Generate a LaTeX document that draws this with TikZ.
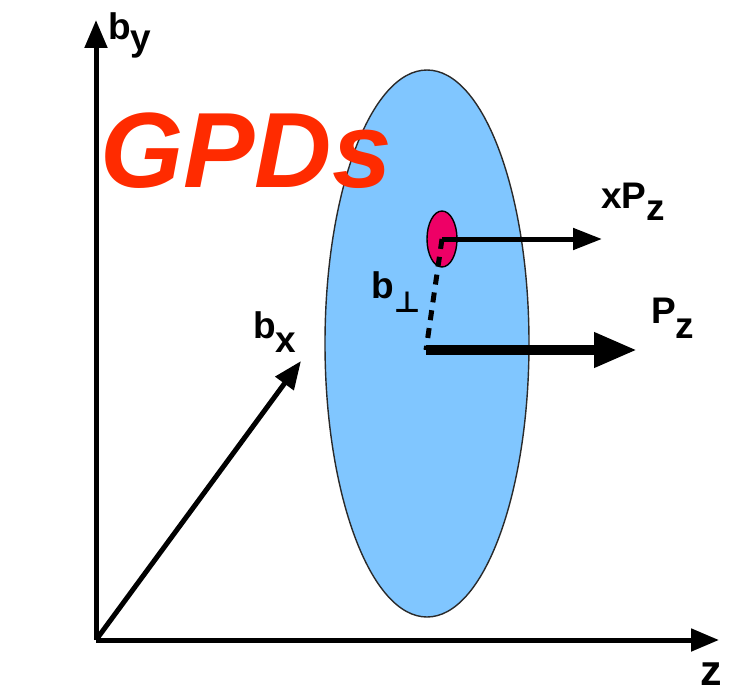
\documentclass[tikz,border=0pt]{standalone}
\usepackage{fontspec}
\setmainfont{Liberation Sans}
\newfontfamily\symfont{DejaVu Sans}
\usepackage{xcolor}
\definecolor{HadronBlue}{HTML}{80C6FF}
\definecolor{PartonPink}{HTML}{EE0066}
\definecolor{TitleRed}{HTML}{FF2B00}
\definecolor{RimGray}{HTML}{2A2A2A}
\usepackage{tikz}
\usetikzlibrary{arrows.meta,shapes.geometric}

\begin{document}
\begin{tikzpicture}[x=1pt, y=-1pt,
    axis/.style={line width=5pt, -{Triangle[length=28pt, width=22pt]}},
    lbl/.style={font=\fontsize{37pt}{37pt}\selectfont\bfseries, anchor=base west, inner sep=0pt}]
    \useasboundingbox (0,0) rectangle (747,693);

    % Hadron and title
    \node[ellipse, draw=RimGray, fill=HadronBlue, line width=1.4pt, inner sep=0pt,
      minimum width=204pt, minimum height=547pt] (hadron) at (427,343.5) {};
    \node[font=\fontsize{107pt}{107pt}\selectfont\bfseries\itshape, text=TitleRed,
      anchor=base west, inner sep=0pt] (title) at (100,187) {GPDs};

    % Axes
    \coordinate (O) at (96,640);
    \coordinate (yTip) at (96,20);
    \coordinate (zTip) at (719,640);
    \coordinate (bxTip) at (301,361);
    \draw[axis] (O) -- (yTip);
    \draw[axis] (O) -- (zTip);
    \draw[axis] (O) -- (bxTip);

    % Parton and momenta
    \node[ellipse, draw=black, fill=PartonPink, line width=1.4pt, inner sep=0pt,
      minimum width=30pt, minimum height=56pt] (spot) at (442,239) {};
    \coordinate (core) at (426,350);
    \coordinate (xTip) at (602,239);
    \coordinate (pTip) at (637,350);
    \draw[line width=5pt, dash pattern=on 10pt off 8pt] (spot.center) -- (core);
    \draw[line width=5pt, -{Triangle[length=29pt, width=21pt]}] (spot.center) -- (xTip);
    \draw[line width=10pt, -{Triangle[length=43pt, width=33pt]}] (core) -- (pTip);

    % Labels
    \node[lbl] (byLabel) at (108,40) {b\raisebox{-11pt}{y}};
    \node[lbl] (bxLabel) at (253,338) {b\raisebox{-14pt}{x}};
    \node[lbl] (bperpLabel) at (371,298) {b\raisebox{-14pt}{\symfont\fontsize{29pt}{29pt}\selectfont ⊥}};
    \node[lbl] (xpLabel) at (601,208) {xP\raisebox{-12pt}{z}};
    \node[lbl] (pLabel) at (651,323) {P\raisebox{-15pt}{z}};
    \node[lbl, font=\fontsize{43pt}{43pt}\selectfont\bfseries] (zLabel) at (700,685) {z};
\end{tikzpicture}
\end{document}
